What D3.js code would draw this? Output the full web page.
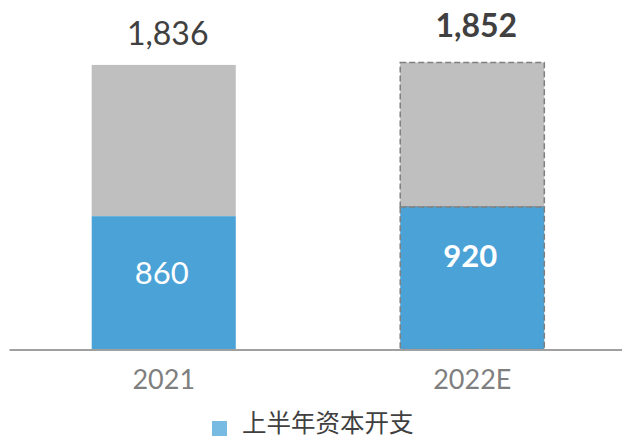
<!DOCTYPE html>
<html>
<head>
<meta charset="utf-8">
<script src="https://cdn.jsdelivr.net/npm/d3@7"></script>
<style>
  html, body { margin: 0; padding: 0; background: #fff; }
  svg { display: block; }
</style>
</head>
<body>
<svg id="chart" width="622" height="439"></svg>
<script>
const categories = ["2021", "2022E"];
const firstHalf = [860, 920];
const totals = [1836, 1852];
const legendLabel = "上半年资本开支";
const estimated = [false, true];

const W = 622, H = 439;
const svg = d3.select("#chart");
const numFont = "Lato, 'Open Sans', 'Liberation Sans', sans-serif";

const x = d3.scaleBand().domain(categories).range([9, 627]).paddingInner(0.533).paddingOuter(0.268);
const y = d3.scaleLinear().domain([0, 2000]).range([349.5, 39.5]);

const rows = categories.map((c, i) => ({
  cat: c, first: firstHalf[i], total: totals[i], est: estimated[i]
}));

const g = svg.append("g");

// grey (second half) segments
g.selectAll("rect.rest").data(rows).join("rect")
  .attr("class", "rest")
  .attr("x", d => x(d.cat))
  .attr("width", x.bandwidth())
  .attr("y", d => y(d.total))
  .attr("height", d => y(d.first) - y(d.total))
  .attr("fill", "#bfbfbf")
  .attr("stroke", d => d.est ? "#7f7f7f" : "none")
  .attr("stroke-width", 1.5)
  .attr("stroke-dasharray", "6,3");

// blue (first half) segments
g.selectAll("rect.first").data(rows).join("rect")
  .attr("class", "first")
  .attr("x", d => x(d.cat))
  .attr("width", x.bandwidth())
  .attr("y", d => y(d.first))
  .attr("height", d => y(0) - y(d.first))
  .attr("fill", "#4aa2d7")
  .attr("stroke", d => d.est ? "#7f7f7f" : "none")
  .attr("stroke-width", 1.5)
  .attr("stroke-dasharray", "6,3");

// axis
const axis = svg.append("g")
  .attr("transform", `translate(0,${y(0)})`)
  .call(d3.axisBottom(x).tickSize(0).tickSizeOuter(0));
axis.select(".domain").attr("stroke", "#a0a0a0").attr("stroke-width", 2);
axis.selectAll(".tick text")
  .attr("y", 39.5).attr("dy", 0)
  .attr("font-family", numFont)
  .attr("font-size", 27)
  .attr("fill", "#7f7f7f");

// total labels
g.selectAll("text.total").data(rows).join("text")
  .attr("class", "total")
  .attr("x", d => x(d.cat) + x.bandwidth() / 2 + 4)
  .attr("y", d => y(d.total) - (d.est ? 25 : 20))
  .attr("text-anchor", "middle")
  .attr("font-family", numFont)
  .attr("font-size", 32)
  .attr("font-weight", d => d.est ? "bold" : "normal")
  .attr("fill", "#404040")
  .text(d => d3.format(",")(d.total));

// inner labels
g.selectAll("text.inner").data(rows).join("text")
  .attr("class", "inner")
  .attr("x", d => x(d.cat) + x.bandwidth() / 2 - 2)
  .attr("y", d => y(d.first) + (d.est ? 60 : 68))
  .attr("text-anchor", "middle")
  .attr("font-family", numFont)
  .attr("font-size", 31)
  .attr("font-weight", d => d.est ? "bold" : "normal")
  .attr("fill", "#ffffff")
  .text(d => d3.format(",")(d.first));

// legend
const lg = svg.append("g");
lg.append("rect").attr("x", 212).attr("y", 421).attr("width", 15).attr("height", 15).attr("fill", "#78bbe2");
lg.append("text").attr("x", 242).attr("y", 432)
  .attr("font-family", "'Noto Sans CJK SC', sans-serif")
  .attr("font-size", 24.5)
  .attr("fill", "#404040")
  .text(legendLabel);
</script>
</body>
</html>
